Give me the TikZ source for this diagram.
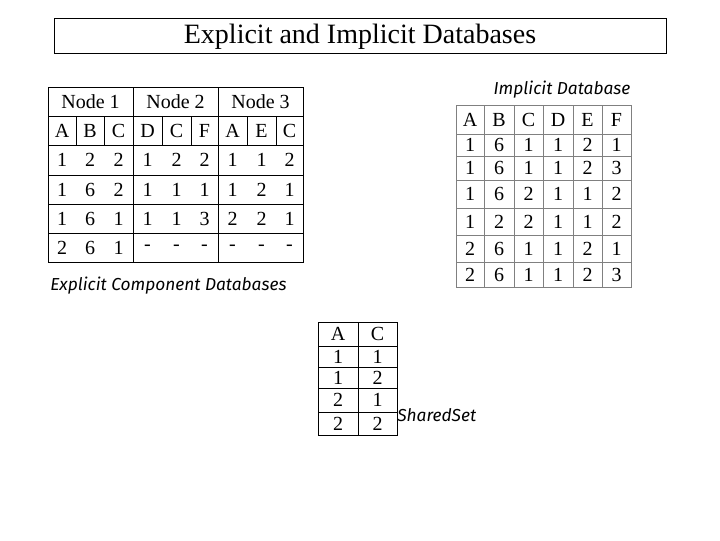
\documentclass[tikz,border=0pt]{standalone}
\usepackage{fontspec}
\setmainfont{Liberation Serif}
\newfontfamily\hand{Fira Sans}
\begin{document}
\begin{tikzpicture}[x=0.75pt,y=-0.75pt,
  cell/.style={font=\fontsize{15}{15}\selectfont,inner sep=0pt},
  lab/.style={font=\hand\itshape\fontsize{13}{13}\selectfont,inner sep=0pt},
  grid/.style={line width=0.6pt},
  ggrid/.style={line width=0.6pt,draw=gray}]
\useasboundingbox (0,0) rectangle (720,540);
% title
\draw[line width=0.6pt] (54,18) rectangle (666,53);
\node[font=\fontsize{21}{21}\selectfont] (title) at (360,37) {Explicit and Implicit Databases};
% left table
\draw[grid] (48,87) rectangle (303,262);
\foreach \y in {116,145,175,204,233} \draw[grid] (48,\y) -- (303,\y);
\foreach \x in {133,218} \draw[grid] (\x,87) -- (\x,262);
\foreach \x in {76,104,162,191,247,276} \draw[grid] (\x,116) -- (\x,145);
\node[cell] (n1) at (90.5,102) {Node 1};
\node[cell] (n2) at (175.5,102) {Node 2};
\node[cell] (n3) at (260.5,102) {Node 3};
\def\xs{62,90,118.5,147.5,176.5,204.5,232.5,261.5,289.5}
\foreach \r/\y/\row in {1/130.5/{A,B,C,D,C,F,A,E,C},2/160/{1,2,2,1,2,2,1,1,2},3/189.5/{1,6,2,1,1,1,1,2,1},4/218.5/{1,6,1,1,1,3,2,2,1},5/247.5/{2,6,1,-,-,-,-,-,-}}{
  \foreach \v [count=\c] in \row {
    \pgfmathsetmacro\xx{{\xs}[\c-1]}
    \node[cell] (L\r-\c) at (\xx,\y) {\v};
  }
}
\node[lab,anchor=west] (expl) at (50,286) {Explicit Component Databases};
% implicit table
\draw[ggrid] (456,105) rectangle (631,287);
\foreach \y in {134,156,180,208,235,262} \draw[ggrid] (456,\y) -- (631,\y);
\foreach \x in {484,514,543,573,602} \draw[ggrid] (\x,105) -- (\x,287);
\def\xi{470,499,528.5,558,587.5,616.5}
\foreach \r/\y/\row in {1/120/{A,B,C,D,E,F},2/145/{1,6,1,1,2,1},3/168/{1,6,1,1,2,3},4/194/{1,6,2,1,1,2},5/221.5/{1,2,2,1,1,2},6/248.5/{2,6,1,1,2,1},7/274.5/{2,6,1,1,2,3}}{
  \foreach \v [count=\c] in \row {
    \pgfmathsetmacro\xx{{\xi}[\c-1]}
    \node[cell] (I\r-\c) at (\xx,\y) {\v};
  }
}
\node[lab] (impl) at (562,90) {Implicit Database};
% shared set
\draw[grid] (318,322) rectangle (397,435);
\foreach \y in {346,367,388,412} \draw[grid] (318,\y) -- (397,\y);
\draw[grid] (358,322) -- (358,435);
\foreach \r/\y/\a/\b in {1/334/A/C,2/356.5/1/1,3/377.5/1/2,4/400/2/1,5/423.5/2/2}{
  \node[cell] (S\r-1) at (338,\y) {\a};
  \node[cell] (S\r-2) at (377.5,\y) {\b};
}
\node[lab,anchor=west] (shared) at (397,415) {SharedSet};
\end{tikzpicture}
\end{document}
